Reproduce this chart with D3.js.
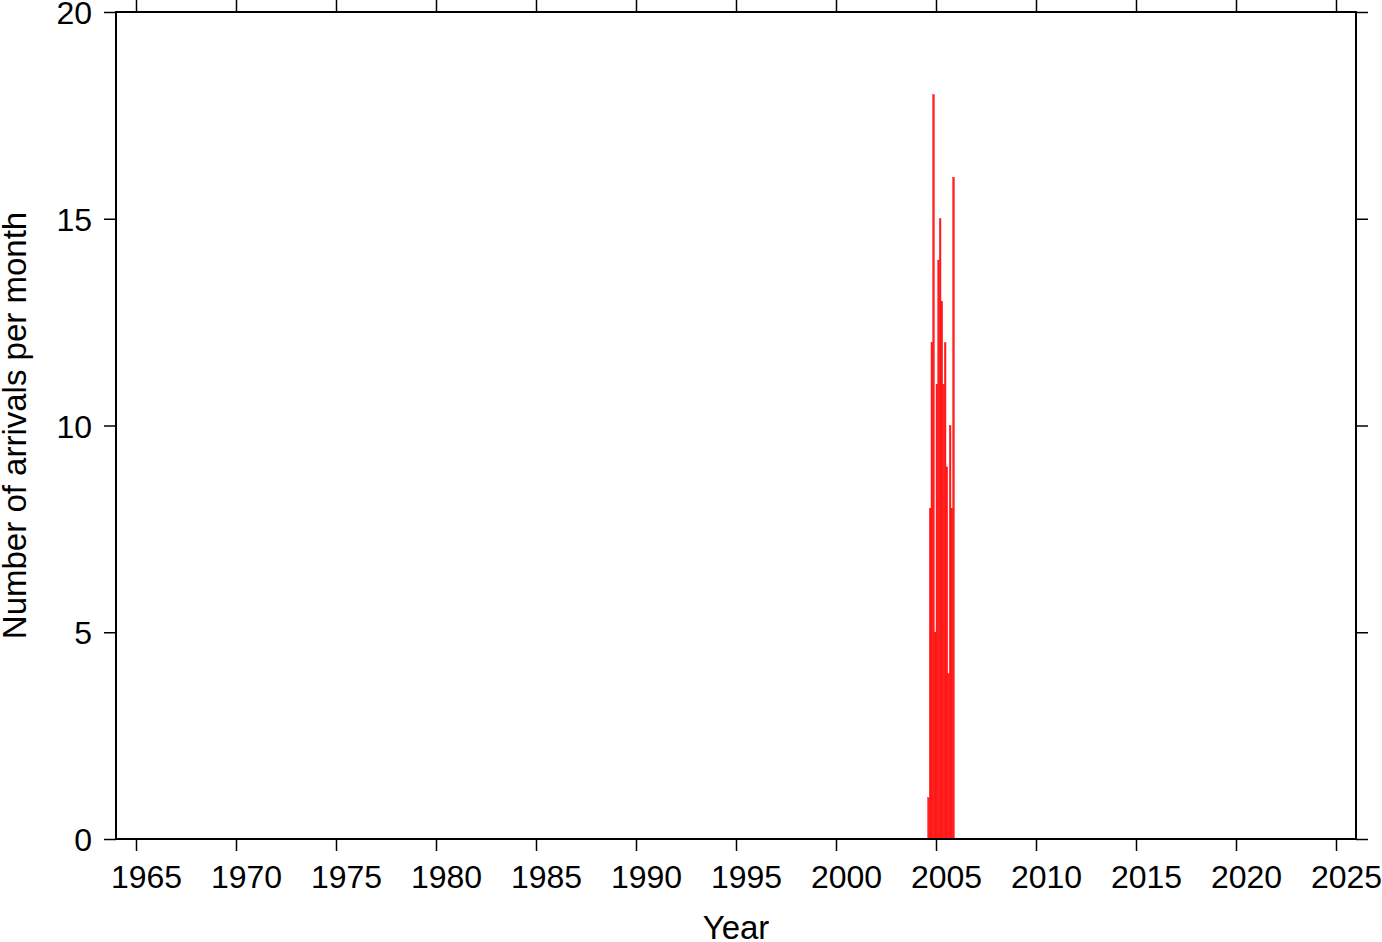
<!DOCTYPE html>
<html><head><meta charset="utf-8">
<script src="https://cdn.jsdelivr.net/npm/d3@7"></script>
<style>body{margin:0;background:#fff}svg{display:block}</style>
</head><body>
<script>
// Monthly arrival counts (Aug 2004 .. Nov 2005)
const months = ["2004-08","2004-09","2004-10","2004-11","2004-12","2005-01","2005-02","2005-03","2005-04","2005-05","2005-06","2005-07","2005-08","2005-09","2005-10","2005-11"];
const counts = [1, 8, 12, 18, 5, 11, 14, 15, 13, 11, 12, 9, 4, 10, 8, 16];
const xTicks = [1965,1970,1975,1980,1985,1990,1995,2000,2005,2010,2015,2020,2025];
const yTicks = [0,5,10,15,20];
const xDomain = [1964, 2026];
const yDomain = [0, 20];

const W = 1382, H = 942;
const m = {left:116, right:1356, top:12, bottom:839};
const svg = d3.select("body").append("svg").attr("width",W).attr("height",H)
  .style("font-family","'Liberation Sans', Arial, Helvetica, sans-serif");

const x = d3.scaleLinear().domain(xDomain).range([m.left, m.right]);
const y = d3.scaleLinear().domain(yDomain).range([m.bottom, m.top]);
const dec = s => { const [yy,mm] = s.split("-").map(Number); return yy + (mm-1)/12; };

const data = months.map((d,i)=>({t:dec(d), v:counts[i]}));
svg.append("g").selectAll("rect").data(data).join("rect")
  .attr("x", d=>x(d.t)).attr("width", d=>x(d.t+1/12)-x(d.t))
  .attr("y", d=>y(d.v)).attr("height", d=>y(0)-y(d.v))
  .attr("fill","#ff2020").attr("stroke","#ff0000").attr("stroke-width",0.4);

const fs = 32, tl = 12;
const axB = svg.append("g").attr("transform",`translate(0,${m.bottom})`)
  .call(d3.axisBottom(x).tickValues(xTicks).tickFormat(d3.format("d")).tickSize(tl).tickPadding(14));
const axT = svg.append("g").attr("transform",`translate(0,${m.top})`)
  .call(d3.axisTop(x).tickValues(xTicks).tickFormat("").tickSize(tl));
const axL = svg.append("g").attr("transform",`translate(${m.left},0)`)
  .call(d3.axisLeft(y).tickValues(yTicks).tickSize(tl).tickPadding(12));
const axR = svg.append("g").attr("transform",`translate(${m.right},0)`)
  .call(d3.axisRight(y).tickValues(yTicks).tickFormat("").tickSize(tl));
[axB,axT,axL,axR].forEach(g=>{
  g.select(".domain").remove();
  g.selectAll(".tick line").attr("stroke","#000").attr("stroke-width",1.5);
  g.selectAll("text").attr("font-size",fs).attr("fill","#000").style("font-family","'Liberation Sans', Arial, sans-serif");
});
axB.selectAll("text").attr("dy","0.71em").attr("dx",10);
axL.selectAll("text").attr("dy","0.36em");

svg.append("rect").attr("x",m.left).attr("y",m.top)
  .attr("width",m.right-m.left).attr("height",m.bottom-m.top)
  .attr("fill","none").attr("stroke","#000").attr("stroke-width",2);

svg.append("text").attr("x",(m.left+m.right)/2).attr("y",939)
  .attr("text-anchor","middle").attr("font-size",33).text("Year");
svg.append("text").attr("transform",`translate(26,${(m.top+m.bottom)/2}) rotate(-90)`)
  .attr("text-anchor","middle").attr("font-size",33).text("Number of arrivals per month");
</script>
</body></html>
